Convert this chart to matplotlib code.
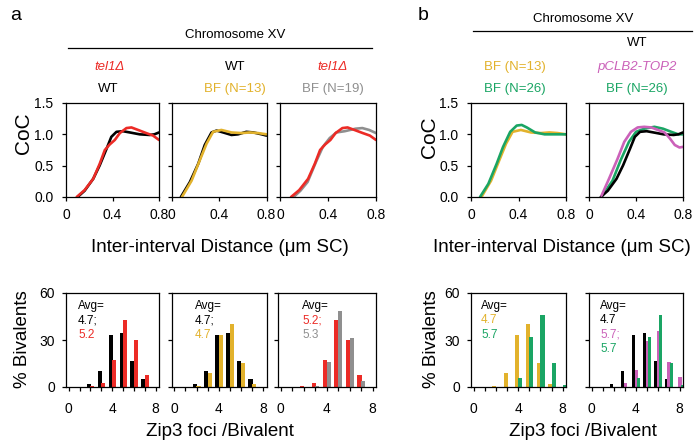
import matplotlib

matplotlib.use("Agg")
import matplotlib.pyplot as plt
from matplotlib.lines import Line2D

plt.rcParams["font.family"] = ["Liberation Sans", "DejaVu Sans"]

W, H = 698, 445

RED = "#ec2b26"
GOLD = "#e2b22c"
GRAY = "#8f8f8f"
GREEN = "#1aa564"
MAGENTA = "#cb61b9"
BLACK = "#000000"

# CoC curves (inter-interval distance in um SC, CoC)
wt_x = [0.10, 0.16, 0.234, 0.29, 0.349, 0.39, 0.434, 0.49, 0.549, 0.634, 0.72, 0.76, 0.80]
wt_y = [0.0, 0.10, 0.29, 0.505, 0.77, 0.96, 1.04, 1.05, 1.03, 1.0, 0.99, 1.0, 1.03]
wtbf_x = [0.079, 0.155, 0.225, 0.28, 0.337, 0.38, 0.435, 0.505, 0.56, 0.63, 0.69, 0.76, 0.80]
wtbf_y = [0.0, 0.24, 0.53, 0.83, 1.03, 1.06, 1.03, 0.99, 1.0, 1.04, 1.03, 1.0, 0.98]
tel1_x = [0.092, 0.16, 0.234, 0.29, 0.334, 0.377, 0.42, 0.463, 0.52, 0.563, 0.62, 0.69, 0.749, 0.80]
tel1_y = [0.0, 0.11, 0.29, 0.53, 0.75, 0.84, 0.91, 1.02, 1.10, 1.11, 1.07, 1.02, 0.98, 0.91]
bf13_x = [0.088, 0.169, 0.239, 0.295, 0.35, 0.42, 0.505, 0.59, 0.66, 0.73, 0.80]
bf13_y = [0.0, 0.26, 0.59, 0.85, 1.04, 1.07, 1.03, 1.02, 1.03, 1.02, 1.0]
bf19_x = [0.114, 0.17, 0.23, 0.30, 0.357, 0.414, 0.47, 0.54, 0.63, 0.686, 0.743, 0.80]
bf19_y = [0.0, 0.10, 0.24, 0.56, 0.80, 0.94, 1.03, 1.05, 1.09, 1.10, 1.07, 1.02]
bf26_x = [0.076, 0.146, 0.216, 0.27, 0.33, 0.385, 0.427, 0.47, 0.54, 0.62, 0.71, 0.80]
bf26_y = [0.0, 0.21, 0.53, 0.80, 1.04, 1.14, 1.15, 1.11, 1.03, 1.0, 1.0, 1.0]
top2_x = [0.106, 0.17, 0.243, 0.30, 0.357, 0.414, 0.47, 0.53, 0.586, 0.643, 0.686, 0.73, 0.77, 0.80]
top2_y = [0.02, 0.29, 0.61, 0.88, 1.04, 1.11, 1.12, 1.11, 1.07, 1.03, 0.94, 0.83, 0.79, 0.80]
top2bf_x = [0.11, 0.20, 0.27, 0.34, 0.40, 0.47, 0.557, 0.63, 0.70, 0.76, 0.80]
top2bf_y = [0.01, 0.26, 0.59, 0.88, 1.04, 1.09, 1.12, 1.09, 1.04, 1.0, 1.0]

# Zip3 foci per bivalent histograms (% bivalents)
foci = [0, 1, 2, 3, 4, 5, 6, 7, 8]
wt_pct = [0, 0, 2.0, 10.2, 33.2, 34.2, 16.5, 4.9, 0]
tel1_pct = [0, 0, 0.5, 2.6, 17.2, 43.0, 30.0, 7.5, 0]
bf13_pct = [0, 0, 0.9, 8.7, 33.3, 40.5, 15.1, 2.0, 0]
bf19_pct = [0, 0, 0.2, 0.8, 16.2, 48.6, 31.2, 3.7, 0]
bf26_pct = [0, 0, 0, 0, 5.9, 32.0, 45.8, 15.5, 1.3]
top2_pct = [0, 0, 0, 2.6, 10.9, 29.6, 36.0, 16.0, 6.5]


def box(x0, y0, x1, y1):
    return [x0 / W, 1 - y1 / H, (x1 - x0) / W, (y1 - y0) / H]


def ftext(fig, x, y, s, **kw):
    kw.setdefault("ha", "center")
    kw.setdefault("va", "center")
    fig.text(x / W, 1 - y / H, s, **kw)


def style(ax):
    for sp in ax.spines.values():
        sp.set_linewidth(0.9)
    ax.tick_params(direction="out", length=3, width=0.9, labelsize=10)


def coc_panel(fig, rect, curves, show_y):
    ax = fig.add_axes(box(*rect))
    for x, y, c in curves:
        ax.plot(x, y, color=c, lw=1.9, solid_joinstyle="round", solid_capstyle="round")
    ax.set_xlim(0, 0.8)
    ax.set_ylim(0, 1.5)
    ax.set_xticks([0, 0.4, 0.8], ["0", "0.4", "0.8"])
    ax.set_yticks([0, 0.5, 1.0, 1.5])
    if not show_y:
        ax.set_yticklabels([])
    style(ax)
    ax.tick_params(axis="x", pad=5)
    ax.tick_params(axis="y", pad=6)
    return ax


def hist_panel(fig, rect, series, offsets, width, show_y):
    ax = fig.add_axes(box(*rect))
    for (vals, c), off in zip(series, offsets):
        ax.bar([f + off for f in foci], vals, width=width, color=c, linewidth=0)
    ax.set_xlim(-0.25, 8.3)
    ax.set_ylim(0, 60)
    ax.set_xticks(foci, ["0", "", "", "", "4", "", "", "", "8"])
    ax.set_yticks([0, 30, 60])
    if not show_y:
        ax.set_yticklabels([])
    style(ax)
    ax.tick_params(axis="x", pad=8)
    ax.tick_params(axis="y", pad=5)
    return ax


fig = plt.figure(figsize=(W / 100, H / 100), dpi=100)

top_y = (103, 197)
bot_y = (293, 387)
cols = [(66, 159), (171.5, 266.5), (280, 376), (471, 566), (589, 683)]

coc_panel(fig, (cols[0][0], top_y[0], cols[0][1], top_y[1]),
          [(wt_x, wt_y, BLACK), (tel1_x, tel1_y, RED)], True)
coc_panel(fig, (cols[1][0], top_y[0], cols[1][1], top_y[1]),
          [(wtbf_x, wtbf_y, BLACK), (bf13_x, bf13_y, GOLD)], False)
coc_panel(fig, (cols[2][0], top_y[0], cols[2][1], top_y[1]),
          [(bf19_x, bf19_y, GRAY), (tel1_x, tel1_y, RED)], False)
coc_panel(fig, (cols[3][0], top_y[0], cols[3][1], top_y[1]),
          [(bf13_x, bf13_y, GOLD), (bf26_x, bf26_y, GREEN)], True)
coc_panel(fig, (cols[4][0], top_y[0], cols[4][1], top_y[1]),
          [(top2bf_x, top2bf_y, GREEN), (wt_x, wt_y, BLACK), (top2_x, top2_y, MAGENTA)], False)

pair = (-0.14, 0.18)
bw = 0.37
hist_panel(fig, (cols[0][0], bot_y[0], cols[0][1], bot_y[1]),
           [(wt_pct, BLACK), (tel1_pct, RED)], pair, bw, True)
hist_panel(fig, (cols[1][0], bot_y[0], cols[1][1], bot_y[1]),
           [(wt_pct, BLACK), (bf13_pct, GOLD)], pair, bw, False)
hist_panel(fig, (278, bot_y[0], cols[2][1], bot_y[1]),
           [(tel1_pct, RED), (bf19_pct, GRAY)], pair, bw, False)
hist_panel(fig, (cols[3][0], bot_y[0], cols[3][1], bot_y[1]),
           [(bf13_pct, GOLD), (bf26_pct, GREEN)], pair, bw, True)
hist_panel(fig, (cols[4][0], bot_y[0], cols[4][1], bot_y[1]),
           [(wt_pct, BLACK), (top2_pct, MAGENTA), (bf26_pct, GREEN)], (-0.2, 0.04, 0.28), 0.3, False)

# panel letters and headers
ftext(fig, 16, 16, "a", fontsize=14)
ftext(fig, 423, 15, "b", fontsize=14)
ftext(fig, 235, 35, "Chromosome XV", fontsize=9.5)
ftext(fig, 583, 19, "Chromosome XV", fontsize=9.5)
fig.add_artist(Line2D([68 / W, 372 / W], [1 - 48 / H] * 2, color=BLACK, lw=0.9))
fig.add_artist(Line2D([473 / W, 692 / W], [1 - 31 / H] * 2, color=BLACK, lw=0.9))

hdr = 9.5
ftext(fig, 110, 67, "tel1\u0394", color=RED, style="italic", fontsize=hdr)
ftext(fig, 108, 89, "WT", color=BLACK, fontsize=hdr)
ftext(fig, 235, 67, "WT", color=BLACK, fontsize=hdr)
ftext(fig, 235, 89, "BF (N=13)", color=GOLD, fontsize=hdr)
ftext(fig, 333, 67, "tel1\u0394", color=RED, style="italic", fontsize=hdr)
ftext(fig, 333, 89, "BF (N=19)", color=GRAY, fontsize=hdr)
ftext(fig, 637, 43, "WT", color=BLACK, fontsize=hdr)
ftext(fig, 515, 67, "BF (N=13)", color=GOLD, fontsize=hdr)
ftext(fig, 515, 89, "BF (N=26)", color=GREEN, fontsize=hdr)
ftext(fig, 637, 67, "pCLB2-TOP2", color=MAGENTA, style="italic", fontsize=hdr)
ftext(fig, 637, 89, "BF (N=26)", color=GREEN, fontsize=hdr)

# axis labels
ftext(fig, 24, 133, "CoC", rotation=90, fontsize=15)
ftext(fig, 430, 137, "CoC", rotation=90, fontsize=15)
ftext(fig, 220, 247, "Inter-interval Distance (\u03bcm SC)", fontsize=13.5)
ftext(fig, 562, 247, "Inter-interval Distance (\u03bcm SC)", fontsize=13.5)
ftext(fig, 23, 339, "% Bivalents", rotation=90, fontsize=13.5)
ftext(fig, 432, 339, "% Bivalents", rotation=90, fontsize=13.5)
ftext(fig, 220, 432, "Zip3 foci /Bivalent", fontsize=13.5)
ftext(fig, 583, 432, "Zip3 foci /Bivalent", fontsize=13.5)

# averages
avg = [
    (78, [("Avg=", BLACK), ("4.7;", BLACK), ("5.2", RED)]),
    (195, [("Avg=", BLACK), ("4.7;", BLACK), ("4.7", GOLD)]),
    (302, [("Avg=", BLACK), ("5.2;", RED), ("5.3", GRAY)]),
    (481, [("Avg=", BLACK), ("4.7", GOLD), ("5.7", GREEN)]),
    (600, [("Avg=", BLACK), ("4.7", BLACK), ("5.7;", MAGENTA), ("5.7", GREEN)]),
]
for x, lines in avg:
    for i, (s, c) in enumerate(lines):
        ftext(fig, x, 306 + i * 14.3, s, color=c, fontsize=8.5, ha="left")

fig.savefig("out.png", dpi=100)
